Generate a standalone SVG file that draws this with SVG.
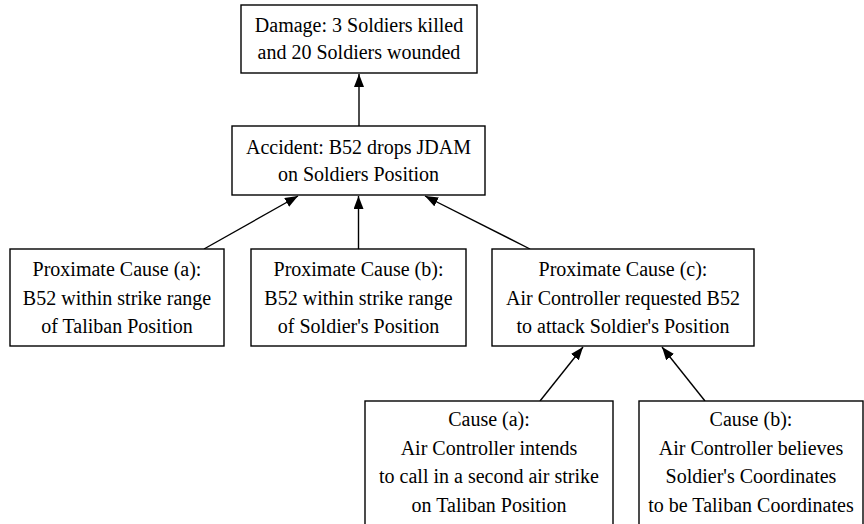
<svg xmlns="http://www.w3.org/2000/svg" width="864" height="524" viewBox="0 0 864 524">
<style>
rect{fill:#fff;stroke:#000;stroke-width:1.4}
text{font-family:"Liberation Serif","Times New Roman",serif;font-size:20px;text-anchor:middle;fill:#000}
.e{stroke:#000;stroke-width:1.4;fill:none}
</style>
<defs>
<marker id="ah" markerUnits="userSpaceOnUse" markerWidth="14" markerHeight="12" refX="13" refY="5" orient="auto">
<path d="M0,0 L13,5 L0,10 Z" fill="#000"/>
</marker>
</defs>
<rect x="0" y="0" width="864" height="524" style="stroke:none;fill:#fff"/>
<g id="edges">
<line class="e" x1="359" y1="126" x2="359" y2="74" marker-end="url(#ah)"/>
<line class="e" x1="204" y1="249" x2="298" y2="196" marker-end="url(#ah)"/>
<line class="e" x1="358.5" y1="249" x2="358.5" y2="196" marker-end="url(#ah)"/>
<line class="e" x1="530" y1="249" x2="425" y2="196" marker-end="url(#ah)"/>
<line class="e" x1="540" y1="401" x2="583" y2="347" marker-end="url(#ah)"/>
<line class="e" x1="705" y1="401" x2="662" y2="347" marker-end="url(#ah)"/>
</g>
<g id="damage">
<rect x="241" y="5" width="236" height="68"/>
<text x="359" y="31.5">Damage: 3 Soldiers killed</text>
<text x="359" y="59">and 20 Soldiers wounded</text>
</g>
<g id="accident">
<rect x="232" y="126" width="253" height="69"/>
<text x="358.5" y="154">Accident: B52 drops JDAM</text>
<text x="358.5" y="181">on Soldiers Position</text>
</g>
<g id="proxA">
<rect x="10" y="249" width="214" height="97"/>
<text x="117" y="276">Proximate Cause (a):</text>
<text x="117" y="304.5">B52 within strike range</text>
<text x="117" y="333">of Taliban Position</text>
</g>
<g id="proxB">
<rect x="251" y="249" width="215" height="97"/>
<text x="358.5" y="276">Proximate Cause (b):</text>
<text x="358.5" y="304.5">B52 within strike range</text>
<text x="358.5" y="333">of Soldier's Position</text>
</g>
<g id="proxC">
<rect x="492" y="249" width="262" height="97"/>
<text x="623" y="276">Proximate Cause (c):</text>
<text x="623" y="304.5">Air Controller requested B52</text>
<text x="623" y="333">to attack Soldier's Position</text>
</g>
<g id="causeA">
<rect x="365" y="401" width="248" height="126"/>
<text x="489" y="426">Cause (a):</text>
<text x="489" y="454.5">Air Controller intends</text>
<text x="489" y="483">to call in a second air strike</text>
<text x="489" y="511.5">on Taliban Position</text>
</g>
<g id="causeB">
<rect x="639" y="401" width="224" height="126"/>
<text x="751" y="426">Cause (b):</text>
<text x="751" y="454.5">Air Controller believes</text>
<text x="751" y="483">Soldier's Coordinates</text>
<text x="751" y="511.5">to be Taliban Coordinates</text>
</g>
</svg>
